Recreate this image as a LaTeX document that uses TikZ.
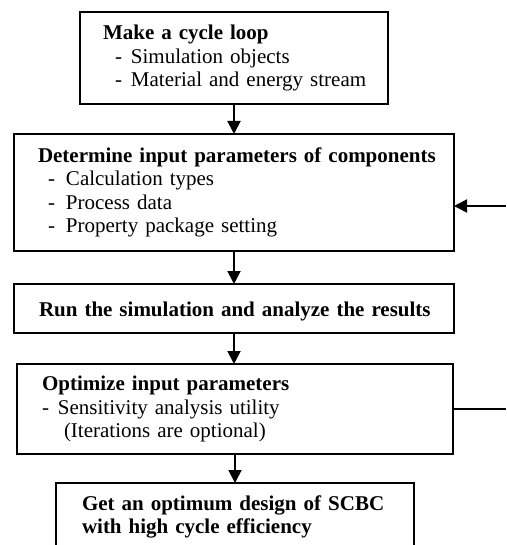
\documentclass[tikz,border=0pt]{standalone}
\usepackage{fontspec}
\setmainfont{Liberation Serif}
\usetikzlibrary{arrows.meta}
\newcommand{\listdash}[1]{\makebox[28pt][l]{\hspace*{#1}-}}
\tikzset{
  flowbox/.style={draw, line width=1.7pt, anchor=north west, inner sep=0pt, outer sep=0pt, align=left,
    execute at begin node={\leftskip=#1\relax}},
  flowbox/.default=23pt,
  flowarrow/.style={line width=1.9pt, -{Triangle[width=13pt,length=13pt]}},
  loopline/.style={line width=1.9pt},
}
\begin{document}
\begin{tikzpicture}[x=1pt, y=-1pt, every node/.style={font=\fontsize{21}{23.5}\selectfont}]
\clip (0,0) rectangle (506,545);
% cycle loop box
\node[flowbox=23pt, text width=308pt, minimum height=92pt] (make) at (80,12)
  {\textbf{Make a cycle loop}\\ \listdash{12pt}Simulation objects\\ \listdash{12pt}Material and energy stream};
% input parameters box
\node[flowbox=24pt, text width=440pt, minimum height=117pt] (determine) at (14,134)
  {\textbf{Determine input parameters of components}\\ \listdash{10pt}Calculation types\\ \listdash{10pt}Process data\\ \listdash{10pt}Property package setting};
% simulation box
\node[flowbox=25pt, text width=440pt, minimum height=49pt] (run) at (14,284)
  {\rule{0pt}{21pt}\textbf{Run the simulation and analyze the results}};
% optimisation box
\node[flowbox=25pt, text width=436pt, minimum height=90pt] (optimize) at (17,364)
  {\textbf{Optimize input parameters}\\ \makebox[16pt][l]{-}Sensitivity analysis utility\\ \hspace*{22pt}(Iterations are optional)};
% result box, runs off the bottom edge
\node[flowbox=26pt, text width=358pt, minimum height=68pt] (design) at (56,483)
  {\textbf{Get an optimum design of SCBC}\\ \textbf{with high cycle efficiency}};
% arrows between steps
\draw[flowarrow] (make.south) -- (make.south |- determine.north);
\draw[flowarrow] (determine.south) -- (determine.south |- run.north);
\draw[flowarrow] (run.south) -- (run.south |- optimize.north);
\draw[flowarrow] (optimize.south) -- (optimize.south |- design.north);
% feedback ends at the right edge
\coordinate (loop in) at (506,206);
\coordinate (loop out) at (506,409);
\draw[flowarrow] (loop in) -- (determine.east |- loop in);
\draw[loopline] (optimize.east |- loop out) -- (loop out);
\end{tikzpicture}
\end{document}
